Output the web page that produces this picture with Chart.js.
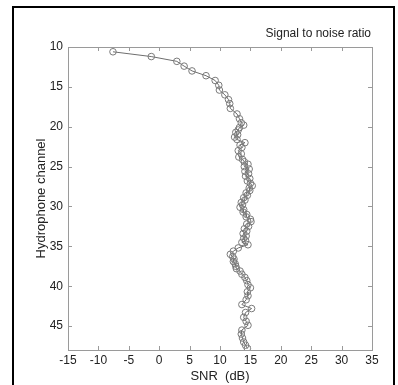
<!DOCTYPE html>
<html>
<head>
<meta charset="utf-8">
<script src="https://cdn.jsdelivr.net/npm/chart.js@4"></script>
<style>
  html, body { margin: 0; padding: 0; background: #fff; }
  body { width: 398px; height: 385px; position: relative; overflow: hidden; }
  #frame {
    position: absolute; left: 12px; top: 6px; width: 379px; height: 400px;
    border-left: 2px solid #000; border-top: 2px solid #000; border-right: 2px solid #000;
  }
  #wrap { position: absolute; left: 0; top: 0; width: 398px; height: 385px; }
</style>
</head>
<body>
<div id="frame"></div>
<div id="wrap"><canvas id="snrChart" width="398" height="385"></canvas></div>
<script>
// hydrophone channel (y) and SNR in dB (x)
const channel = [
  10.6, 11.2, 11.8, 12.4, 13.0, 13.6, 14.2, 14.8, 15.4, 16.0, 16.6, 17.1, 17.7, 18.4, 19.0, 19.5,
  19.8, 20.1, 20.4, 20.7, 21.0, 21.3, 21.6, 22.0, 22.3, 22.6, 23.0, 23.4, 23.8, 24.1,
  24.4, 24.7, 25.0, 25.3, 25.6, 25.9, 26.2, 26.5, 26.8, 27.1, 27.4, 27.7, 28.0, 28.3, 28.6, 28.9,
  29.2, 29.5, 29.8, 30.1, 30.4, 30.7, 31.0, 31.3, 31.6, 31.9, 32.2, 32.5, 32.8, 33.1, 33.4, 33.7,
  34.0, 34.3, 34.5, 34.8,
  35.2, 35.6, 36.0, 36.3, 36.6, 36.9, 37.2, 37.5, 37.8, 38.1, 38.5, 38.9, 39.3, 39.8, 40.2, 40.7,
  41.2, 41.7, 42.3, 42.8, 43.3, 43.9, 44.4, 44.9, 45.5, 46.0, 46.5, 47.0, 47.4, 47.8
];
const snr = [
  -7.6, -1.3, 2.9, 4.1, 5.4, 7.7, 9.2, 9.8, 9.9, 10.8, 11.4, 11.6, 11.7, 12.8, 13.2, 13.5,
  13.9, 13.2, 13.0, 12.6, 12.9, 12.4, 12.8, 14.1, 13.3, 13.6, 13.0, 13.5, 13.1, 13.7,
  14.0, 14.6, 14.0, 14.8, 14.1, 14.7, 14.2, 14.9, 14.5, 15.0, 15.3, 14.8, 14.9, 14.3, 14.5, 13.9,
  14.1, 13.5, 13.7, 13.3, 13.9, 13.8, 14.4, 14.3, 15.0, 15.1, 14.4, 14.7, 14.0, 14.4, 13.8, 14.3,
  13.9, 14.2, 13.6, 14.6,
  13.0, 12.2, 11.7, 12.1, 12.3, 12.2, 12.5, 12.6, 12.7, 13.3, 13.6, 14.1, 14.4, 14.6, 15.0, 14.5,
  14.6, 14.3, 13.6, 15.2, 14.2, 13.9, 14.3, 14.6, 13.6, 13.5, 13.7, 13.9, 14.2, 14.5
];
const xTicks = [-15, -10, -5, 0, 5, 10, 15, 20, 25, 30, 35];
const yTicks = [10, 15, 20, 25, 30, 35, 40, 45];

const points = snr.map((v, i) => ({ x: v, y: channel[i] }));

// matlab style box with inward ticks + title
const boxPlugin = {
  id: "box",
  afterDraw(chart) {
    const { ctx, chartArea: a, scales } = chart;
    ctx.save();
    ctx.strokeStyle = "#9a9a9a";
    ctx.lineWidth = 1;
    ctx.strokeRect(a.left + 0.5, a.top + 0.5, a.right - a.left, a.bottom - a.top);
    ctx.beginPath();
    xTicks.forEach(v => {
      const px = Math.round(scales.x.getPixelForValue(v)) + 0.5;
      ctx.moveTo(px, a.bottom); ctx.lineTo(px, a.bottom - 4);
      ctx.moveTo(px, a.top); ctx.lineTo(px, a.top + 4);
    });
    yTicks.forEach(v => {
      const py = Math.round(scales.y.getPixelForValue(v)) + 0.5;
      ctx.moveTo(a.left, py); ctx.lineTo(a.left + 4, py);
      ctx.moveTo(a.right, py); ctx.lineTo(a.right - 4, py);
    });
    ctx.stroke();
    ctx.fillStyle = "#222";
    ctx.font = "12px 'Liberation Sans', Arial, sans-serif";
    ctx.textAlign = "right";
    ctx.textBaseline = "middle";
    ctx.fillText("Signal to noise ratio", a.right - 1, a.top - 13);
    ctx.restore();
  }
};

new Chart(document.getElementById("snrChart").getContext("2d"), {
  type: "scatter",
  data: {
    datasets: [{
      data: points,
      showLine: true,
      borderColor: "#6e6e6e",
      borderWidth: 1,
      pointRadius: 3.3,
      pointBorderColor: "#7a7a7a",
      pointBackgroundColor: "rgba(255,255,255,0)",
      pointBorderWidth: 1,
    }],
  },
  plugins: [boxPlugin],
  options: {
    responsive: false,
    animation: false,
    layout: { padding: { left: 30, top: 47, right: 26, bottom: 0 } },
    plugins: { legend: { display: false }, tooltip: { enabled: false } },
    scales: {
      x: {
        type: "linear",
        min: -15,
        max: 35,
        afterBuildTicks: s => { s.ticks = xTicks.map(v => ({ value: v })); },
        afterFit: s => { s.height = 35; },
        grid: { display: false, drawTicks: false },
        border: { display: false },
        ticks: { color: "#222", padding: 3, font: { family: "'Liberation Sans', Arial", size: 12 }, maxRotation: 0 },
        title: { display: true, text: "SNR  (dB)", color: "#222", padding: { top: 0, bottom: 1 },
                 font: { family: "'Liberation Sans', Arial", size: 13 } },
      },
      y: {
        type: "linear",
        reverse: true,
        min: 10,
        max: 48,
        afterBuildTicks: s => { s.ticks = yTicks.map(v => ({ value: v })); },
        afterFit: s => { s.width = 38; },
        grid: { display: false, drawTicks: false },
        border: { display: false },
        ticks: { color: "#222", padding: 5, font: { family: "'Liberation Sans', Arial", size: 12 } },
        title: { display: true, text: "Hydrophone channel", color: "#222", padding: { top: 4, bottom: 0 },
                 font: { family: "'Liberation Sans', Arial", size: 13 } },
      },
    },
  },
});
</script>
</body>
</html>
